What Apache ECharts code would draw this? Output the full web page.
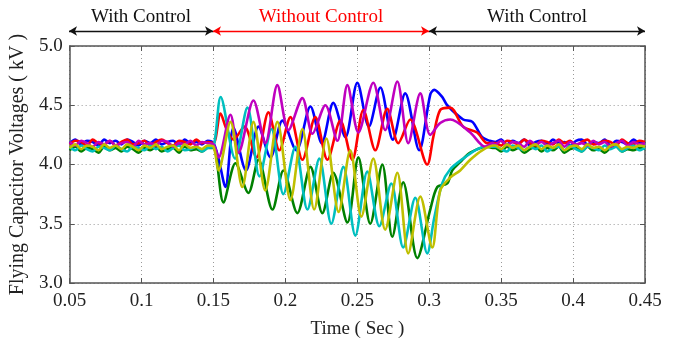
<!DOCTYPE html>
<html>
<head>
<meta charset="utf-8">
<script src="https://cdn.jsdelivr.net/npm/echarts@6/dist/echarts.min.js"></script>
<style>html,body{margin:0;padding:0;background:#fff;}#c{width:673px;height:345px;}</style>
</head>
<body>
<div id="c"></div>
<script>
// ---- axis ticks ----
const xTicks = [0.05, 0.1, 0.15, 0.2, 0.25, 0.3, 0.35, 0.4, 0.45];
const yTicks = [3.0, 3.5, 4.0, 4.5, 5.0];

// ---- regions (top annotation) ----
const regionNames = ['With Control', 'Without Control', 'With Control'];
const regionBounds = [[0.05, 0.15], [0.15, 0.30], [0.30, 0.45]];
const regionColors = ['#111', '#ff0000', '#111'];

// ---- steady-state sample times ----
const preTimes = [0.050,0.054,0.058,0.062,0.066,0.070,0.074,0.078,0.082,0.086,0.090,0.094,0.098,0.102,0.106,0.110,0.114,0.118,0.122,0.126,0.130,0.134,0.138,0.142,0.146];
const postTimes = [0.346,0.350,0.354,0.358,0.362,0.366,0.370,0.374,0.378,0.382,0.386,0.390,0.394,0.398,0.402,0.406,0.410,0.414,0.418,0.422,0.426,0.430,0.434,0.438,0.442,0.446,0.450];

// ---- Blue ----
const bluePre = [4.18,4.21,4.17,4.20,4.19,4.16,4.21,4.18,4.20,4.17,4.21,4.19,4.16,4.20,4.18,4.21,4.17,4.19,4.20,4.16,4.21,4.18,4.19,4.17,4.20];
const blueMid = [[0.150,4.18],[0.1535,4.05],[0.1583,3.81],[0.1639,4.31],[0.1726,3.95],[0.1813,4.32],[0.1896,4.06],[0.1979,4.37],[0.2076,4.12],[0.2174,4.49],[0.2253,4.18],[0.2333,4.52],[0.2417,4.23],[0.2500,4.69],[0.2580,4.32],[0.2660,4.65],[0.2747,4.21],[0.2833,4.60],[0.2930,4.12],[0.3007,4.59],[0.3035,4.63],[0.3090,4.57],[0.3125,4.50],[0.3236,4.38],[0.3300,4.36],[0.3368,4.23],[0.3420,4.20]];
const bluePost = [4.19,4.21,4.17,4.20,4.18,4.21,4.16,4.19,4.20,4.17,4.21,4.18,4.19,4.16,4.20,4.21,4.17,4.19,4.18,4.21,4.16,4.20,4.19,4.17,4.21,4.18,4.19];

// ---- Green ----
const greenPre = [4.12,4.15,4.11,4.14,4.13,4.10,4.15,4.12,4.14,4.11,4.15,4.13,4.10,4.14,4.12,4.15,4.11,4.13,4.14,4.10,4.15,4.12,4.13,4.11,4.14];
const greenMid = [[0.150,4.14],[0.1569,3.68],[0.1653,4.01],[0.1743,3.76],[0.1813,4.04],[0.1910,3.62],[0.1986,3.95],[0.2083,3.59],[0.2174,3.98],[0.2257,3.59],[0.2333,3.93],[0.2431,3.51],[0.2507,4.06],[0.2590,3.50],[0.2674,4.00],[0.2743,3.39],[0.2819,3.85],[0.2917,3.21],[0.3007,3.62],[0.3056,3.81],[0.3125,3.84],[0.3160,3.95],[0.3215,4.02],[0.3285,4.10],[0.3403,4.15],[0.3440,4.14]];
const greenPost = [4.14,4.11,4.15,4.12,4.14,4.10,4.13,4.15,4.11,4.14,4.12,4.15,4.10,4.13,4.14,4.11,4.15,4.12,4.13,4.10,4.14,4.15,4.11,4.13,4.12,4.14,4.13];

// ---- Red ----
const redPre = [4.17,4.20,4.19,4.16,4.21,4.18,4.17,4.20,4.16,4.19,4.21,4.17,4.18,4.20,4.16,4.19,4.21,4.18,4.16,4.20,4.19,4.17,4.21,4.18,4.19];
const redMid = [[0.150,4.18],[0.1549,4.43],[0.1590,4.30],[0.1639,4.21],[0.1715,4.32],[0.1799,4.06],[0.1882,4.44],[0.1958,4.12],[0.2035,4.40],[0.2118,4.04],[0.2208,4.40],[0.2292,4.04],[0.2382,4.37],[0.2465,4.04],[0.2542,4.46],[0.2625,4.12],[0.2708,4.47],[0.2785,4.18],[0.2868,4.38],[0.2986,4.00],[0.3028,4.23],[0.3076,4.46],[0.3146,4.48],[0.3236,4.32],[0.3333,4.27],[0.3403,4.18],[0.3440,4.18]];
const redPost = [4.18,4.16,4.20,4.19,4.17,4.21,4.18,4.16,4.20,4.19,4.17,4.21,4.18,4.20,4.16,4.19,4.21,4.17,4.18,4.20,4.19,4.16,4.21,4.18,4.17,4.20,4.19];

// ---- Cyan ----
const cyanPre = [4.15,4.12,4.16,4.13,4.11,4.15,4.14,4.12,4.16,4.13,4.11,4.15,4.14,4.12,4.16,4.13,4.15,4.11,4.14,4.16,4.12,4.13,4.15,4.11,4.14];
const cyanMid = [[0.150,4.15],[0.1550,4.57],[0.1650,4.05],[0.1736,4.48],[0.1820,3.90],[0.1903,4.30],[0.1986,3.75],[0.2069,4.15],[0.2153,3.62],[0.2236,4.05],[0.2319,3.50],[0.2403,3.98],[0.2486,3.40],[0.2569,3.94],[0.2653,3.48],[0.2736,3.84],[0.2819,3.30],[0.2903,3.72],[0.2986,3.25],[0.3035,3.55],[0.3090,3.84],[0.3146,3.96],[0.3236,4.05],[0.3319,4.12],[0.3389,4.15]];
const cyanPost = [4.15,4.13,4.11,4.16,4.14,4.12,4.15,4.13,4.16,4.11,4.14,4.15,4.12,4.16,4.13,4.11,4.15,4.14,4.12,4.16,4.13,4.15,4.11,4.14,4.16,4.12,4.14];

// ---- Magenta ----
const magentaPre = [4.19,4.16,4.20,4.18,4.15,4.19,4.17,4.20,4.16,4.18,4.19,4.15,4.20,4.17,4.18,4.16,4.20,4.19,4.15,4.18,4.17,4.20,4.16,4.19,4.18];
const magentaMid = [[0.150,4.17],[0.1535,4.06],[0.1618,4.42],[0.1674,4.10],[0.1778,4.54],[0.1861,4.18],[0.1944,4.67],[0.2021,4.29],[0.2118,4.56],[0.2188,4.26],[0.2278,4.50],[0.2361,4.20],[0.2431,4.67],[0.2507,4.27],[0.2611,4.69],[0.2694,4.29],[0.2778,4.70],[0.2854,4.18],[0.2938,4.60],[0.3007,4.25],[0.3076,4.35],[0.3146,4.38],[0.3285,4.27],[0.3389,4.15],[0.3440,4.18]];
const magentaPost = [4.17,4.20,4.16,4.19,4.18,4.15,4.20,4.17,4.19,4.16,4.18,4.20,4.15,4.19,4.17,4.18,4.16,4.20,4.17,4.19,4.15,4.18,4.20,4.16,4.19,4.17,4.18];

// ---- Yellow ----
const yellowPre = [4.14,4.17,4.13,4.16,4.15,4.12,4.17,4.14,4.16,4.13,4.17,4.15,4.12,4.16,4.14,4.17,4.13,4.15,4.16,4.12,4.17,4.14,4.15,4.13,4.16];
const yellowMid = [[0.150,4.15],[0.1535,3.95],[0.1618,4.36],[0.1700,3.81],[0.1778,4.36],[0.1860,3.78],[0.1944,4.36],[0.2035,3.70],[0.2118,4.30],[0.2200,3.62],[0.2285,4.22],[0.2370,3.60],[0.2451,4.12],[0.2528,3.56],[0.2611,4.05],[0.2694,3.45],[0.2778,3.93],[0.2854,3.25],[0.2938,3.73],[0.3021,3.30],[0.3076,3.78],[0.3146,3.89],[0.3215,3.95],[0.3285,4.04],[0.3368,4.12],[0.3450,4.16]];
const yellowPost = [4.16,4.13,4.17,4.14,4.16,4.12,4.15,4.17,4.13,4.16,4.14,4.17,4.12,4.15,4.16,4.13,4.17,4.14,4.15,4.12,4.16,4.17,4.13,4.15,4.14,4.16,4.15];

function build(pre, mid, post) {
  const out = preTimes.map((t, i) => [t, pre[i]]);
  mid.forEach(p => out.push(p));
  postTimes.forEach((t, i) => out.push([t, post[i]]));
  return out;
}

const seriesDefs = [
  { name: 'Blue', color: '#0000ff', data: build(bluePre, blueMid, bluePost) },
  { name: 'Green', color: '#008000', data: build(greenPre, greenMid, greenPost) },
  { name: 'Red', color: '#ff0000', data: build(redPre, redMid, redPost) },
  { name: 'Cyan', color: '#00bfbf', data: build(cyanPre, cyanMid, cyanPost) },
  { name: 'Magenta', color: '#bf00bf', data: build(magentaPre, magentaMid, magentaPost) },
  { name: 'Yellow', color: '#bfbf00', data: build(yellowPre, yellowMid, yellowPost) }
];

const FONT = "'Liberation Serif', 'Times New Roman', serif";
const frameColor = '#555';
const fmtX = v => String(Math.round(v * 100) / 100);
const fmtY = v => (Math.round(v * 10) / 10).toFixed(1);

const chart = echarts.init(document.getElementById('c'), null, { renderer: 'canvas' });

const series = seriesDefs.map(s => ({
  name: s.name,
  type: 'line',
  xAxisIndex: 0,
  yAxisIndex: 0,
  data: s.data,
  showSymbol: false,
  symbol: 'none',
  smooth: 0.3,
  lineStyle: { color: s.color, width: 2.6 },
  itemStyle: { color: s.color },
  silent: true,
  animation: false,
  z: 3
}));

series.push({
  type: 'line',
  xAxisIndex: 2,
  yAxisIndex: 2,
  data: [],
  symbol: 'none',
  silent: true,
  animation: false,
  markLine: {
    silent: true,
    animation: false,
    symbol: ['arrow', 'arrow'],
    symbolSize: [7, 8],
    data: regionBounds.map((b, i) => [
      { coord: [b[0], 0.5], lineStyle: { color: regionColors[i], width: 1.3, type: 'solid' },
        label: { show: true, formatter: regionNames[i], position: 'middle', color: regionColors[i],
                 fontFamily: FONT, fontSize: 19, distance: 4 } },
      { coord: [b[1], 0.5] }
    ])
  }
});

const option = {
  animation: false,
  backgroundColor: '#fff',
  grid: [
    { left: 69, right: 28, top: 46, bottom: 62 },
    { left: 69, right: 28, top: 26, height: 10 }
  ],
  xAxis: [
    {
      type: 'value', gridIndex: 0, min: xTicks[0], max: xTicks[xTicks.length - 1], interval: 0.05,
      position: 'bottom',
      name: 'Time ( Sec )', nameLocation: 'middle', nameGap: 37,
      nameTextStyle: { fontFamily: FONT, fontSize: 19, color: '#222' },
      axisLine: { show: true, lineStyle: { color: frameColor, width: 1.5 } },
      axisTick: { show: true, inside: true, length: 5, lineStyle: { color: frameColor } },
      axisLabel: { fontFamily: FONT, fontSize: 19, color: '#222', margin: 9, formatter: fmtX },
      splitLine: { show: true, lineStyle: { color: '#999', type: [1, 3], width: 1 } }
    },
    {
      type: 'value', gridIndex: 0, min: xTicks[0], max: xTicks[xTicks.length - 1], interval: 0.05,
      position: 'top',
      axisLine: { show: true, lineStyle: { color: frameColor, width: 1.5 } },
      axisTick: { show: true, inside: true, length: 5, lineStyle: { color: frameColor } },
      axisLabel: { show: false },
      splitLine: { show: false }
    },
    { type: 'value', gridIndex: 1, min: xTicks[0], max: xTicks[xTicks.length - 1], show: false }
  ],
  yAxis: [
    {
      type: 'value', gridIndex: 0, min: yTicks[0], max: yTicks[yTicks.length - 1], interval: 0.5,
      position: 'left',
      name: 'Flying Capacitor Voltages ( kV )', nameLocation: 'middle', nameGap: 39,
      nameTextStyle: { fontFamily: FONT, fontSize: 20, color: '#222' },
      axisLine: { show: true, lineStyle: { color: frameColor, width: 1.5 } },
      axisTick: { show: true, inside: true, length: 5, lineStyle: { color: frameColor } },
      axisLabel: { fontFamily: FONT, fontSize: 19, color: '#222', margin: 7, formatter: fmtY },
      splitLine: { show: true, lineStyle: { color: '#999', type: [1, 3], width: 1 } }
    },
    {
      type: 'value', gridIndex: 0, min: yTicks[0], max: yTicks[yTicks.length - 1], interval: 0.5,
      position: 'right',
      axisLine: { show: true, lineStyle: { color: frameColor, width: 1.5 } },
      axisTick: { show: true, inside: true, length: 5, lineStyle: { color: frameColor } },
      axisLabel: { show: false },
      splitLine: { show: false }
    },
    { type: 'value', gridIndex: 1, min: 0, max: 1, show: false }
  ],
  series: series
};

chart.setOption(option);
</script>
</body>
</html>
